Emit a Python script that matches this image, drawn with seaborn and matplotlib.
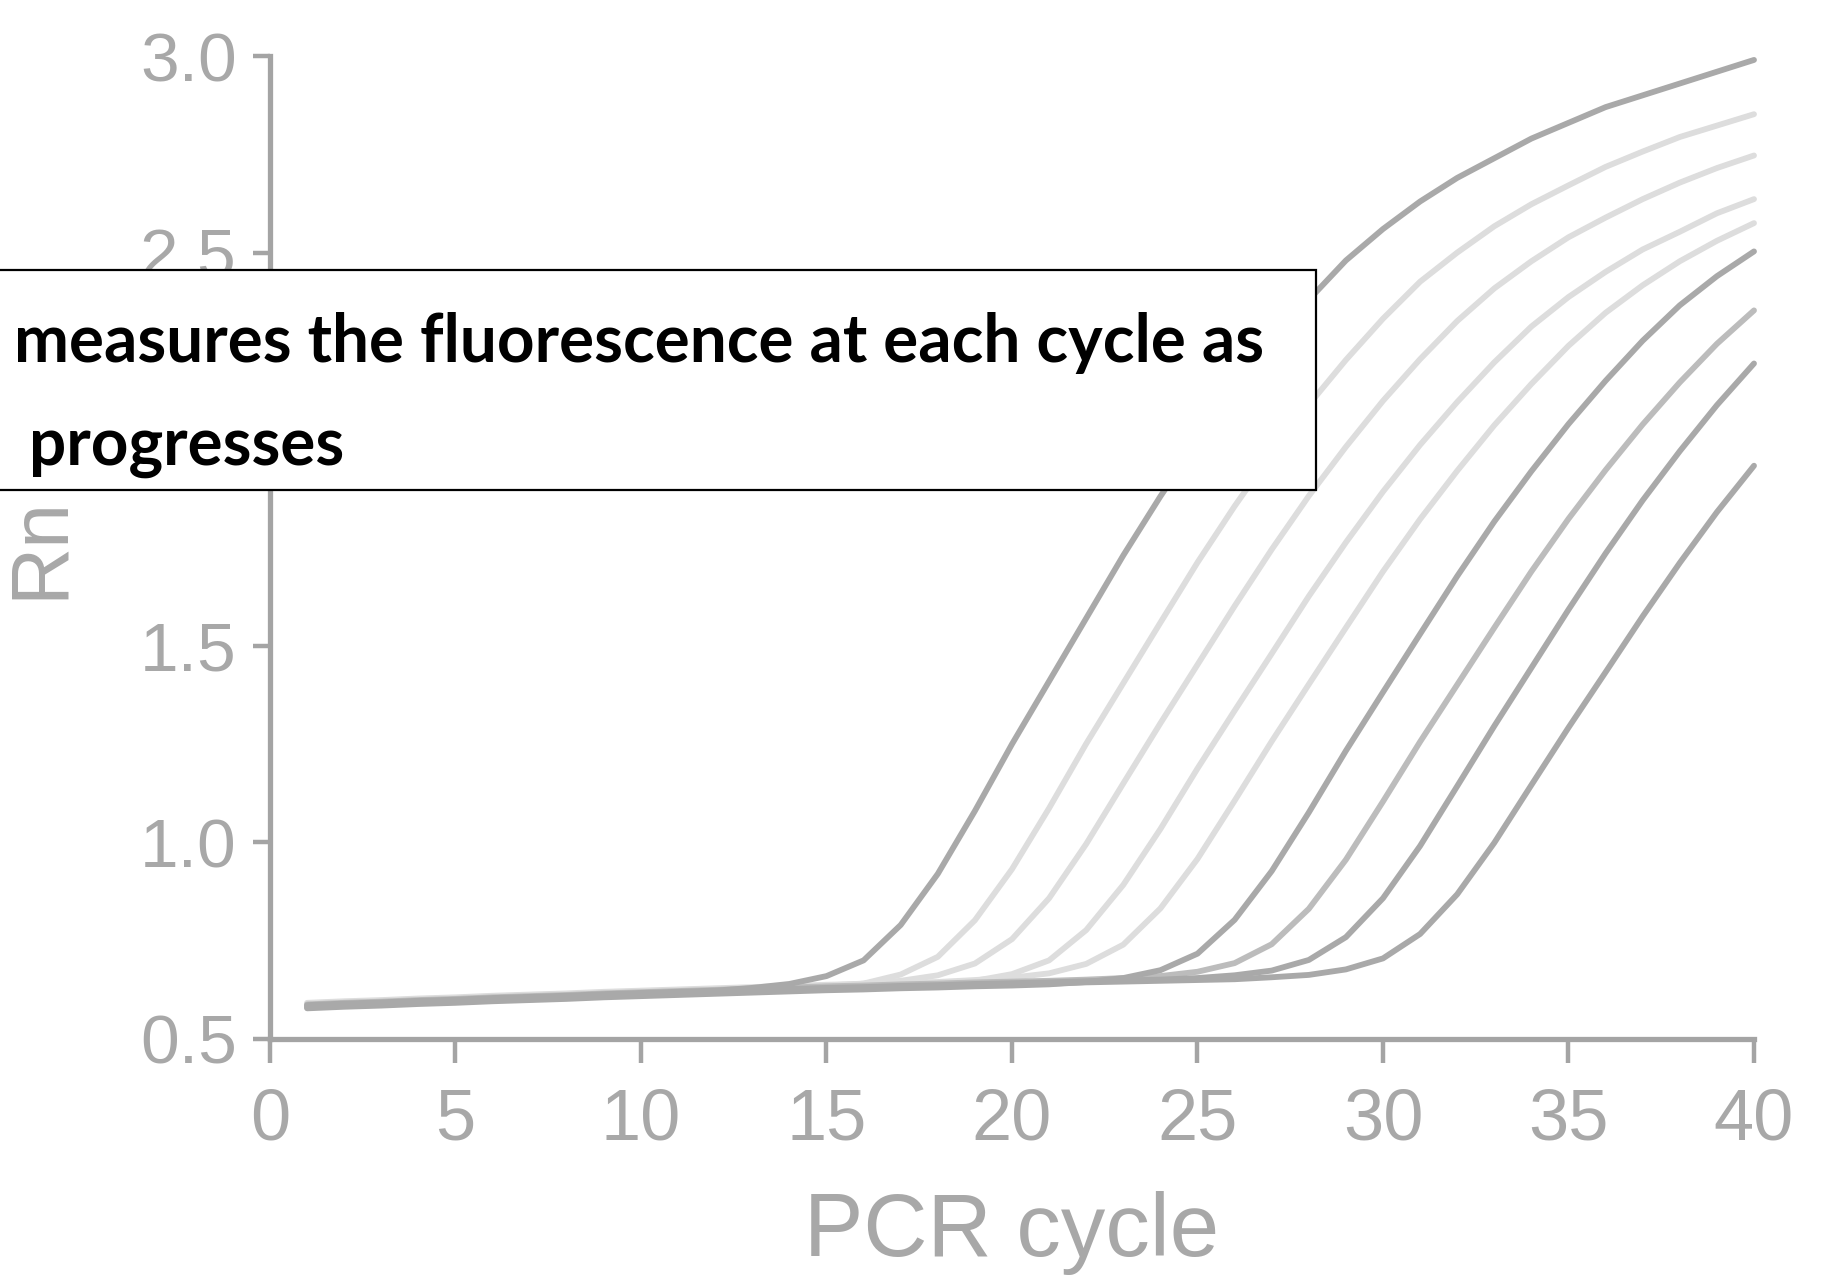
import matplotlib
matplotlib.use("Agg")
import matplotlib.pyplot as plt
import numpy as np
import pandas as pd
import seaborn as sns
from matplotlib.patches import Rectangle
from matplotlib.font_manager import FontProperties, findfont

# ---------------- data ----------------
cycles = list(range(1, 41))

curve_1 = [0.586, 0.590, 0.593, 0.597, 0.600, 0.604, 0.607, 0.610, 0.614, 0.617,
           0.620, 0.623, 0.630, 0.640, 0.660, 0.700, 0.790, 0.920, 1.080, 1.250,
           1.410, 1.570, 1.730, 1.880, 2.020, 2.150, 2.270, 2.380, 2.480, 2.560,
           2.630, 2.690, 2.740, 2.790, 2.830, 2.870, 2.900, 2.930, 2.960, 2.990]
curve_2 = [0.580, 0.584, 0.587, 0.591, 0.594, 0.598, 0.601, 0.604, 0.608, 0.611,
           0.614, 0.617, 0.620, 0.624, 0.631, 0.641, 0.664, 0.709, 0.802, 0.932,
           1.087, 1.251, 1.405, 1.559, 1.712, 1.855, 1.989, 2.113, 2.227, 2.332,
           2.426, 2.500, 2.567, 2.623, 2.671, 2.718, 2.757, 2.794, 2.823, 2.852]
curve_3 = [0.590, 0.594, 0.597, 0.601, 0.604, 0.608, 0.611, 0.614, 0.618, 0.621,
           0.624, 0.627, 0.630, 0.633, 0.636, 0.641, 0.648, 0.662, 0.692, 0.754,
           0.858, 0.996, 1.150, 1.303, 1.452, 1.601, 1.745, 1.881, 2.006, 2.123,
           2.229, 2.326, 2.409, 2.478, 2.539, 2.589, 2.636, 2.678, 2.715, 2.747]
curve_4 = [0.583, 0.587, 0.590, 0.594, 0.597, 0.601, 0.604, 0.607, 0.611, 0.614,
           0.617, 0.620, 0.623, 0.626, 0.629, 0.631, 0.635, 0.639, 0.648, 0.665,
           0.700, 0.777, 0.892, 1.034, 1.188, 1.335, 1.480, 1.626, 1.763, 1.892,
           2.011, 2.120, 2.221, 2.312, 2.387, 2.451, 2.508, 2.553, 2.600, 2.636]
curve_5 = [0.592, 0.596, 0.599, 0.603, 0.606, 0.610, 0.613, 0.616, 0.620, 0.623,
           0.626, 0.629, 0.632, 0.635, 0.638, 0.640, 0.643, 0.645, 0.650, 0.656,
           0.667, 0.691, 0.740, 0.832, 0.958, 1.106, 1.257, 1.402, 1.546, 1.689,
           1.822, 1.945, 2.061, 2.166, 2.263, 2.347, 2.417, 2.478, 2.530, 2.575]
curve_6 = [0.578, 0.582, 0.585, 0.589, 0.592, 0.596, 0.599, 0.602, 0.606, 0.609,
           0.612, 0.615, 0.618, 0.621, 0.624, 0.626, 0.629, 0.631, 0.634, 0.636,
           0.639, 0.645, 0.655, 0.675, 0.717, 0.803, 0.927, 1.076, 1.233, 1.382,
           1.530, 1.677, 1.816, 1.944, 2.064, 2.174, 2.276, 2.366, 2.440, 2.503]
curve_7 = [0.588, 0.592, 0.595, 0.599, 0.602, 0.606, 0.609, 0.612, 0.616, 0.619,
           0.622, 0.625, 0.628, 0.631, 0.634, 0.636, 0.639, 0.641, 0.644, 0.646,
           0.648, 0.651, 0.655, 0.660, 0.671, 0.693, 0.741, 0.831, 0.956, 1.104,
           1.256, 1.401, 1.546, 1.689, 1.823, 1.947, 2.063, 2.170, 2.268, 2.353]
curve_8 = [0.584, 0.588, 0.591, 0.595, 0.598, 0.602, 0.605, 0.608, 0.612, 0.615,
           0.618, 0.621, 0.624, 0.627, 0.630, 0.632, 0.635, 0.637, 0.640, 0.642,
           0.644, 0.647, 0.649, 0.651, 0.655, 0.662, 0.674, 0.701, 0.759, 0.858,
           0.991, 1.143, 1.296, 1.444, 1.592, 1.735, 1.870, 1.995, 2.112, 2.218]
curve_9 = [0.581, 0.585, 0.588, 0.592, 0.595, 0.599, 0.602, 0.605, 0.609, 0.612,
           0.615, 0.618, 0.621, 0.624, 0.627, 0.629, 0.632, 0.634, 0.637, 0.639,
           0.641, 0.644, 0.646, 0.648, 0.650, 0.652, 0.657, 0.663, 0.677, 0.705,
           0.767, 0.868, 0.999, 1.146, 1.292, 1.433, 1.575, 1.711, 1.840, 1.958]

curve_names = ["curve 1", "curve 2", "curve 3", "curve 4", "curve 5",
               "curve 6", "curve 7", "curve 8", "curve 9"]
curve_values = [curve_1, curve_2, curve_3, curve_4, curve_5,
                curve_6, curve_7, curve_8, curve_9]
curve_shades = ["dark", "light", "light", "light", "light",
                "dark", "medium", "dark", "dark"]

x_ticks = [0, 5, 10, 15, 20, 25, 30, 35, 40]
x_tick_labels = ["0", "5", "10", "15", "20", "25", "30", "35", "40"]
y_ticks = [0.5, 1.0, 1.5, 2.0, 2.5, 3.0]
# the 2.0 label is completely hidden behind the caption box in the reference
y_tick_labels = ["0.5", "1.0", "1.5", "", "2.5", "3.0"]
x_label = "PCR cycle"
y_label = "Rn"
caption_line1 = "measures the fluorescence at each cycle as"
caption_line2 = "progresses"

# ---------------- styling ----------------
shade_colors = {"dark": "#a9a9a9", "medium": "#bcbcbc", "light": "#dddddd"}
axis_gray = "#a4a4a4"
label_gray = "#a8a8a8"


def pick_font(candidates):
    for fam in candidates:
        try:
            findfont(FontProperties(family=fam), fallback_to_default=False)
            return fam
        except Exception:
            continue
    return "DejaVu Sans"


narrow_font = pick_font(["Liberation Sans Narrow", "Liberation Sans", "DejaVu Sans"])
caption_font = pick_font(["Lato", "Open Sans", "DejaVu Sans"])

sns.set_theme(style="white")
plt.rcParams["font.family"] = [narrow_font, "DejaVu Sans"]

W, H = 1824, 1276
fig = plt.figure(figsize=(W / 100, H / 100), dpi=100)
ax = fig.add_axes([270 / W, (H - 1039) / H, (1754 - 270) / W, (1039 - 56) / H])

rows = []
for name, vals in zip(curve_names, curve_values):
    for c, v in zip(cycles, vals):
        rows.append({"cycle": c, "Rn": v, "curve": name})
df = pd.DataFrame(rows)

palette = {n: shade_colors[s] for n, s in zip(curve_names, curve_shades)}
# draw light curves first, dark ones on top
order = sorted(range(len(curve_names)),
               key=lambda i: {"light": 0, "medium": 1, "dark": 2}[curve_shades[i]])
for i in order:
    sub = df[df["curve"] == curve_names[i]]
    sns.lineplot(data=sub, x="cycle", y="Rn", color=palette[curve_names[i]],
                 linewidth=4.2, ax=ax, legend=False, clip_on=False,
                 solid_joinstyle="round", solid_capstyle="round")

ax.set_xlim(0, 40)
ax.set_ylim(0.5, 3.0)
ax.set_xticks(x_ticks)
ax.set_xticklabels(x_tick_labels)
ax.set_yticks(y_ticks)
ax.set_yticklabels(y_tick_labels)
for side in ["top", "right"]:
    ax.spines[side].set_visible(False)
for side in ["left", "bottom"]:
    ax.spines[side].set_color(axis_gray)
    ax.spines[side].set_linewidth(3.8)
ax.tick_params(axis="x", direction="out", length=17, width=3.2, color=axis_gray,
               labelcolor=label_gray, labelsize=52, pad=18, bottom=True)
ax.tick_params(axis="y", direction="out", length=12, width=3.2, color=axis_gray,
               labelcolor=label_gray, labelsize=50, pad=12, left=True)
ax.set_xlabel(x_label, fontsize=64, color=label_gray, labelpad=26)
ax.set_ylabel(y_label, fontsize=58, color=label_gray, labelpad=44)
ax.set_facecolor("white")

# ---------------- caption box ----------------
box = Rectangle((-5 / W, (H - 490) / H), (1316 + 5) / W, (490 - 270) / H,
                transform=fig.transFigure, facecolor="white", edgecolor="black",
                linewidth=1.6, zorder=10)
fig.patches.append(box)

t1 = fig.text(14 / W, (H - 343) / H, caption_line1, ha="left", va="center",
              fontsize=40, fontweight="bold", color="black",
              family=[caption_font, "DejaVu Sans"], zorder=11)
t2 = fig.text(29 / W, (H - 447) / H, caption_line2, ha="left", va="center",
              fontsize=40, fontweight="bold", color="black",
              family=[caption_font, "DejaVu Sans"], zorder=11)
fig.canvas.draw()
r = fig.canvas.get_renderer()
w1 = t1.get_window_extent(r).width
scale = (1262 - 14) / w1
t1.set_fontsize(40 * scale)
t2.set_fontsize(40 * scale)

fig.savefig("out.png", dpi=100, facecolor="white")
